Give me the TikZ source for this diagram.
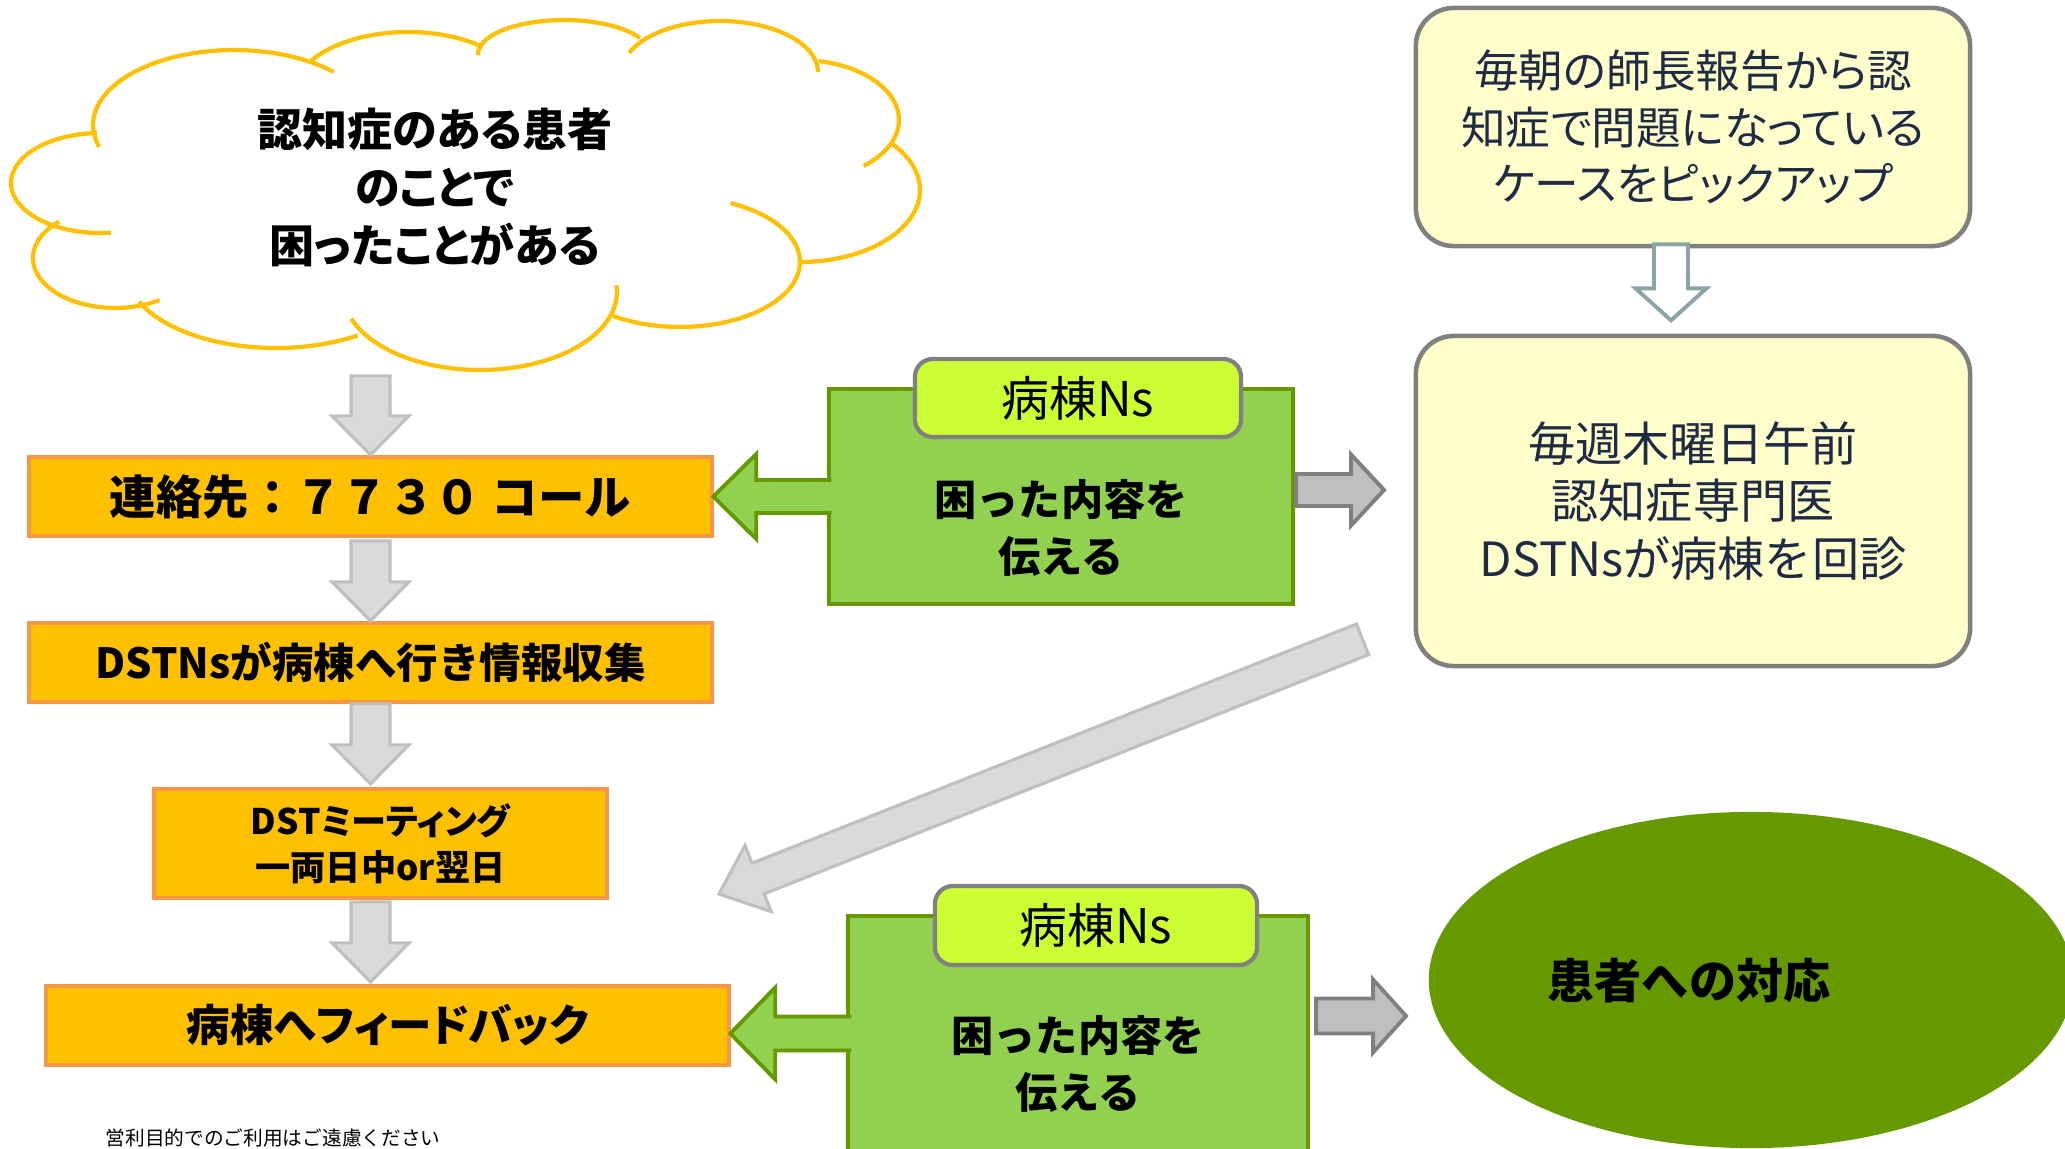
\documentclass[tikz,border=0pt]{standalone}
\usepackage{fontspec}
\setmainfont{Noto Sans CJK JP}
\newfontfamily\jpp{Noto Sans CJK JP}[RawFeature=+palt]
\usetikzlibrary{calc,shapes.geometric}
\definecolor{orfill}{HTML}{FFC000}
\definecolor{orline}{HTML}{F79646}
\definecolor{grfill}{HTML}{92D050}
\definecolor{grline}{HTML}{669900}
\definecolor{lblfill}{HTML}{CCFF33}
\definecolor{gline}{HTML}{808080}
\definecolor{lgfill}{HTML}{D9D9D9}
\definecolor{lgline}{HTML}{BFBFBF}
\definecolor{ylfill}{HTML}{FFFFCC}
\definecolor{navytxt}{HTML}{1F2B45}
\definecolor{hollowc}{HTML}{8AA4A8}
\definecolor{cloudc}{HTML}{FFC000}
% vertical down block arrow: style, tip, total len, head len, head half, shaft half
\newcommand\vblock[6]{\draw[#1] (#2) -- ++(-#5,-#4) -- ++(#5-#6,0) -- ++(0,-#3+#4) -- ++(2*#6,0) -- ++(0,#3-#4) -- ++(#5-#6,0) -- cycle;}
% left green block arrow: tip, head len, head half, shaft half, total len
\newcommand\leftblock[5]{%
 \fill[grfill] (#1) -- ++(#2,-#3) -- ++(0,#3-#4) -- ++(#5-#2+2,0) -- ++(0,2*#4) -- ++(-#5+#2-2,0) -- ++(0,#3-#4) -- cycle;
 \draw[grline, line width=1.1pt] ($(#1)+(#5,-#4)$) -- ++(-#5+#2,0) -- ++(0,-#3+#4) -- (#1) -- ++(#2,#3) -- ++(0,-#3+#4) -- ++(#5-#2,0);}
% right gray block arrow: tail centre, shaft len, head len, shaft half, head half
\newcommand\rightblock[5]{\draw[rarrow] ($(#1)+(0,-#4)$) -- ++(#2,0) -- ++(0,-#5+#4) -- ++(#3,#5) -- ++(-#3,#5) -- ++(0,-#5+#4) -- ++(-#2,0) -- cycle;}
\begin{document}
\begin{tikzpicture}[x=0.01cm,y=-0.01cm,
  orbox/.style={draw=orline, fill=orfill, line width=1.2pt, inner sep=0pt, align=center},
  grbox/.style={draw=grline, fill=grfill, line width=1.1pt, inner sep=0pt},
  lbl/.style={draw=gline, fill=lblfill, line width=1.2pt, rounded corners=0.18cm, inner sep=0pt, font=\fontsize{13.6}{15}\selectfont},
  ybox/.style={draw=gline, fill=ylfill, line width=1.3pt, rounded corners=0.38cm, inner sep=0pt, align=center, text=navytxt},
  gtxt/.style={inner sep=0pt, align=center, font=\bfseries\fontsize{12}{16.2}\selectfont},
  darrow/.style={draw=lgline, fill=lgfill, line width=0.9pt},
  rarrow/.style={draw=gline, fill=lgline, line width=1.1pt},
  harrow/.style={draw=hollowc, fill=white, line width=1.1pt},
  cloudline/.style={draw=cloudc, line width=1.2pt}]
\useasboundingbox (0,0) rectangle (2065,1149);
\fill[white] (0,0) rectangle (2065,1149);
\clip (0,0) rectangle (2065,1149);

% cloud
\foreach \cx/\cy/\rx/\ry/\a/\b in {234/125/141/75/163/315, 408/93/114/61/212/311, 564/54/86/34/178/332, 720/72/98/51/202/360, 800/120/99/60/281/410, 800/190/120/72/319/450, 680/262/120/65/-65/124, 480/292/137/78/-5/160, 276/270/150/78/57/156, 115/258/82/50/57/227, 100/183/89/50/83/268}
  \draw[cloudline] plot[domain=\a:\b, samples=40, variable=\t] ({\cx+\rx*cos(\t)},{\cy+\ry*sin(\t)});
\node[inner sep=0pt, align=center, font=\jpp\bfseries\fontsize{12.8}{16.5}\selectfont] (cloudtxt) at (435,187) {認知症のある患者\\のことで\\困ったことがある};

% orange flow
\node[orbox, minimum width=6.83cm, minimum height=0.79cm, font=\bfseries\fontsize{13.2}{15}\selectfont] (call) at (370.5,496.5) {連絡先：７７３０ コール};
\node[orbox, minimum width=6.83cm, minimum height=0.79cm, font=\bfseries\fontsize{11.8}{14}\selectfont] (info) at (370.5,662.5) {DSTNsが病棟へ行き情報収集};
\node[orbox, minimum width=4.53cm, minimum height=1.09cm, font=\jpp\bfseries\fontsize{10}{13.1}\selectfont] (meet) at (380.5,843.5) {DSTミーティング\\一両日中or翌日};
\node[orbox, minimum width=6.83cm, minimum height=0.79cm, font=\jpp\bfseries\fontsize{12.4}{16}\selectfont] (fb) at (387.5,1025.5) {病棟へフィードバック};

\vblock{darrow}{call.north}{79}{39}{38.5}{19.5}
\vblock{darrow}{info.north}{80}{39}{38.5}{19.5}
\vblock{darrow}{$(call.north |- meet.north)+(0,-3)$}{80}{39}{38.5}{19.5}
\vblock{darrow}{$(call.north |- fb.north)+(0,-2)$}{80}{39}{38.5}{19.5}

% green group 1
\node[grbox, minimum width=4.64cm, minimum height=2.15cm] (g1) at (1061,496.5) {};
\node[lbl, minimum width=3.26cm, minimum height=0.78cm] (l1) at (1078,398) {病棟Ns};
\node[gtxt] (t1) at (1061,528) {困った内容を\\伝える};
\leftblock{$(call.east)+(-1,0)$}{43}{42.5}{16.5}{118}
\rightblock{$(g1.east)+(1,-6.5)$}{55}{33}{16}{35.5}

% green group 2
\node[grbox, minimum width=4.60cm, minimum height=2.80cm] (g2) at (1078,1056) {};
\node[lbl, minimum width=3.22cm, minimum height=0.79cm] (l2) at (1096,925.5) {病棟Ns};
\node[gtxt] (t2) at (1078,1064) {困った内容を\\伝える};
\leftblock{$(fb.east)+(-1,8)$}{45}{46}{17}{121}
\rightblock{$(g2.north east)+(6,102)$}{57}{33}{17.5}{36.5}

% yellow boxes
\node[ybox, minimum width=5.54cm, minimum height=2.38cm, font=\jpp\fontsize{12.7}{16.1}\selectfont] (y1) at (1693,127) {毎朝の師長報告から認\\知症で問題になっている\\ケースをピックアップ};
\node[ybox, minimum width=5.54cm, minimum height=3.30cm, font=\fontsize{13.4}{16.3}\selectfont] (y2) at (1693,501) {毎週木曜日午前\\認知症専門医\\DSTNsが病棟を回診};
\vblock{harrow}{$(y1.south)+(-22,72)$}{76}{32}{35.5}{17}

% diagonal arrow
\coordinate (dtail) at ($(y2.south west)+(-51,-29)$);
\coordinate (dtip) at (719,894);
\coordinate (dh) at ($(dtip)!0.42cm!(dtail)$);
\draw[darrow] (dtip) -- ($(dh)!0.355cm!90:(dtip)$) -- ($(dh)!0.165cm!90:(dtip)$) -- ($(dtail)!0.165cm!90:(dtip)$) -- ($(dtail)!0.165cm!-90:(dtip)$) -- ($(dh)!0.165cm!-90:(dtip)$) -- ($(dh)!0.355cm!-90:(dtip)$) -- cycle;

% ellipse
\node[ellipse, fill=grline, minimum width=6.44cm, minimum height=3.36cm, inner sep=0pt] (resp) at (1751,980) {};
\node[inner sep=0pt, font=\bfseries\fontsize{13.4}{16}\selectfont] (resptxt) at (1689,981) {患者への対応};

% footer
\node[anchor=west, inner sep=0pt, font=\fontsize{5.6}{7}\selectfont] (foot) at (105,1138) {営利目的でのご利用はご遠慮ください};
\end{tikzpicture}
\end{document}
